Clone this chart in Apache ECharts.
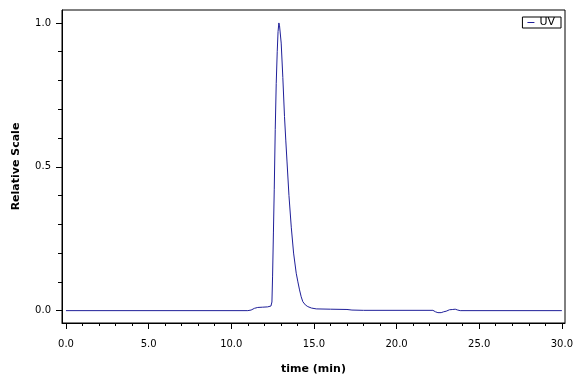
<!DOCTYPE html>
<html>
<head>
  <meta charset="UTF-8" />
  <title>UV chromatogram</title>
  <style>
    html, body { margin: 0; padding: 0; background: #fff; }
    #chart { width: 576px; height: 384px; }
  </style>
  <script src="https://cdn.jsdelivr.net/npm/echarts@6/dist/echarts.min.js"></script>
</head>
<body>
  <div id="chart"></div>
  <script>
    // retention time (min) and relative UV signal
    var times = [
      0, 11.0, 11.2, 11.4, 11.6, 11.9, 12.2, 12.4, 12.46, 12.5,
      12.55, 12.6, 12.66, 12.72, 12.78, 12.83, 12.88, 12.92, 12.96, 13.02,
      13.12, 13.22, 13.3, 13.37, 13.49, 13.63, 13.77, 13.93, 14.03, 14.13,
      14.23, 14.33, 14.48, 14.63, 14.85, 15.14, 16.0, 17.0, 17.3, 18.0,
      22.2, 22.35, 22.5, 22.7, 22.85, 23.0, 23.2, 23.4, 23.55, 23.7,
      23.85, 30.0
    ];
    var uv = [
      0, 0, 0.002, 0.008, 0.011, 0.012, 0.013, 0.016, 0.03, 0.12,
      0.27, 0.42, 0.63, 0.79, 0.9, 0.97, 1.0, 0.99, 0.985, 0.93,
      0.81, 0.675, 0.59, 0.52, 0.40, 0.29, 0.20, 0.13, 0.10, 0.072,
      0.048, 0.031, 0.02, 0.014, 0.009, 0.006, 0.005, 0.004, 0.002, 0.001,
      0.001, -0.004, -0.007, -0.007, -0.004, -0.002, 0.003, 0.004, 0.005, 0.002,
      0, 0
    ];
    var xMajor = [0, 5, 10, 15, 20, 25, 30];
    var xMinor = [1, 2, 3, 4, 6, 7, 8, 9, 11, 12, 13, 14, 16, 17, 18, 19, 21, 22, 23, 24, 26, 27, 28, 29];
    var yMajor = [0, 0.5, 1.0];
    var yMinor = [0.1, 0.2, 0.3, 0.4, 0.6, 0.7, 0.8, 0.9];

    var font = 'DejaVu Sans';
    var points = times.map(function (t, i) { return [t, uv[i]]; });

    var chart = echarts.init(document.getElementById('chart'));
    chart.setOption({
      animation: false,
      backgroundColor: '#fff',
      grid: {
        left: 62, top: 10, width: 504, height: 313,
        show: true, borderColor: '#000', borderWidth: 1, backgroundColor: '#fff'
      },
      legend: {
        data: [{ name: 'UV', icon: 'rect' }],
        right: 15, top: 17,
        borderColor: '#000', borderWidth: 1,
        padding: [0, 6, 0, 5],
        itemWidth: 7, itemHeight: 1,
        textStyle: { fontFamily: font, fontSize: 11, color: '#000' }
      },
      xAxis: [
        {
          type: 'value', min: -0.24, max: 30.19,
          name: 'time (min)', nameLocation: 'middle', nameGap: 41,
          nameTextStyle: { fontFamily: font, fontSize: 11, fontWeight: 'bold', color: '#000' },
          axisLine: { show: true, onZero: false, lineStyle: { color: '#000', width: 1 } },
          axisTick: { show: true, customValues: xMajor, length: 6, lineStyle: { color: '#000' } },
          axisLabel: {
            customValues: xMajor, margin: 16,
            fontFamily: font, fontSize: 10, color: '#000',
            formatter: function (v) { return v.toFixed(1); }
          },
          splitLine: { show: false }
        },
        {
          type: 'value', min: -0.24, max: 30.19, position: 'bottom', offset: 0,
          axisLine: { show: false, onZero: false },
          axisTick: { show: true, customValues: xMinor, length: 3, lineStyle: { color: '#000' } },
          axisLabel: { show: false },
          splitLine: { show: false }
        }
      ],
      yAxis: [
        {
          type: 'value', min: -0.043, max: 1.045,
          name: 'Relative Scale', nameLocation: 'middle', nameGap: 40,
          nameTextStyle: { fontFamily: font, fontSize: 11, fontWeight: 'bold', color: '#000' },
          axisLine: { show: true, onZero: false, lineStyle: { color: '#000', width: 1 } },
          axisTick: { show: true, customValues: yMajor, length: 6, lineStyle: { color: '#000' } },
          axisLabel: {
            customValues: yMajor, margin: 11,
            fontFamily: font, fontSize: 10, color: '#000',
            formatter: function (v) { return v.toFixed(1); }
          },
          splitLine: { show: false }
        },
        {
          type: 'value', min: -0.043, max: 1.045, position: 'left', offset: 0,
          axisLine: { show: false, onZero: false },
          axisTick: { show: true, customValues: yMinor, length: 4, lineStyle: { color: '#000' } },
          axisLabel: { show: false },
          splitLine: { show: false }
        }
      ],
      series: [{
        name: 'UV',
        type: 'line',
        xAxisIndex: 0, yAxisIndex: 0,
        data: points,
        showSymbol: false,
        symbol: 'none',
        color: '#1f1f99',
        lineStyle: { width: 1, color: '#1f1f99' }
      }]
    });
  </script>
</body>
</html>
